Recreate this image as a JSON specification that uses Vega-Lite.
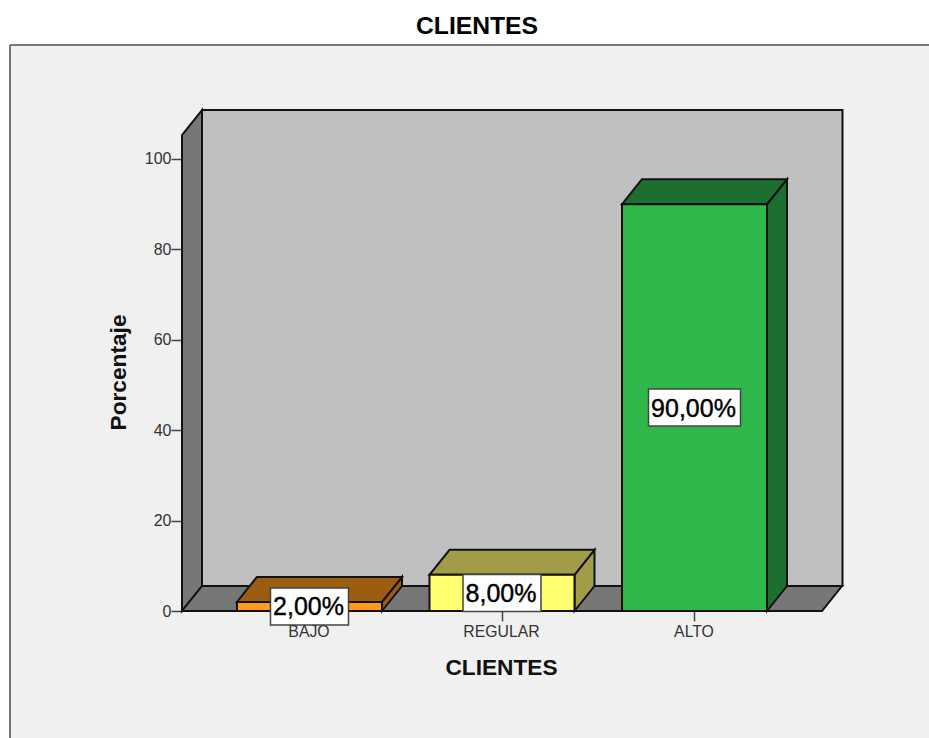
{
"$schema":"https://vega.github.io/schema/vega-lite/v6.json",
"width":919,"height":693,
"autosize":{"type":"none"},
"padding":{"left":10,"top":45,"right":0,"bottom":0},
"background":"#ffffff",
"config":{"view":{"fill":"#f0f0f0","stroke":null},"font":"Liberation Sans"},
"title":{"text":"CLIENTES","fontSize":24.7,"fontWeight":"bold","font":"Liberation Sans","color":"#000000","offset":5,"dx":7.5},
"datasets":{
"barras":[{"cliente":"BAJO","porcentaje":2},{"cliente":"REGULAR","porcentaje":8},{"cliente":"ALTO","porcentaje":90}],
"marco":[{"elemento":"pared"}]
},
"data":{"name":"barras"},
"transform":[
{"calculate":"indexof(['BAJO','REGULAR','ALTO'],datum.cliente)+1","as":"pos"},
{"calculate":"datum.pos-0.3766","as":"izq"},
{"calculate":"datum.pos+0.3766","as":"der"},
{"calculate":"0","as":"base"},
{"calculate":"replace(format(datum.porcentaje,'.2f'),'.',',')+'%'","as":"etiqueta"},
{"calculate":"datum.porcentaje/2","as":"medio"},
{"calculate":"datum.pos-(length(datum.etiqueta)>5?0.239:0.2026)","as":"cajaIzq"},
{"calculate":"datum.pos+(length(datum.etiqueta)>5?0.239:0.2026)","as":"cajaDer"},
{"calculate":"datum.medio-4.09","as":"cajaAbajo"},
{"calculate":"datum.medio+4.09","as":"cajaArriba"}
],
"layer":[
{"data":{"name":"marco"},
 "transform":[{"calculate":"0.4416","as":"xa"},{"calculate":"3.7688","as":"xb"},{"calculate":"5.531","as":"ya"},{"calculate":"110.84","as":"yb"}],
 "mark":{"type":"rect","fill":"#c0c0c0","stroke":"#111111","strokeWidth":2},
 "encoding":{
  "x":{"field":"xa","type":"quantitative","scale":{"domain":[-0.5558,4.2182],"nice":false,"zero":false},
    "axis":{"orient":"bottom","offset":-127,"values":[1,2,3],"grid":false,"domain":false,
      "labelExpr":"datum.value==1?'BAJO':datum.value==2?'REGULAR':'ALTO'",
      "tickSize":10,"tickWidth":1.5,"tickColor":"#444444","labelFontSize":15.8,"labelColor":"#333333","labelPadding":3,"labelOffset":-1,"labelFont":"Liberation Sans",
      "title":"CLIENTES","titleFontSize":22.7,"titleFontWeight":"bold","titleColor":"#111111","titleFont":"Liberation Sans","titleX":491,"titleY":56,"titleBaseline":"middle","titleAnchor":"middle"}},
  "x2":{"field":"xb"},
  "y":{"field":"ya","type":"quantitative","scale":{"domain":[-28.097,125.22],"nice":false,"zero":false},
    "axis":{"orient":"left","offset":-172,"values":[0,20,40,60,80,100],"grid":false,"domain":false,
      "tickSize":11,"tickWidth":1.5,"tickColor":"#444444","labelFontSize":16,"labelColor":"#333333","labelPadding":0,"labelFont":"Liberation Sans",
      "title":"Porcentaje","titleFontSize":22.7,"titleFontWeight":"bold","titleColor":"#111111","titleFont":"Liberation Sans","titleX":-64,"titleY":327,"titleAngle":-90,"titleBaseline":"middle","titleAnchor":"middle"}},
  "y2":{"field":"yb"}
 }},
{"data":{"name":"marco"},
 "transform":[{"calculate":"[0,1]","as":"t"},{"flatten":["t"]},
  {"calculate":"0.3377+datum.t*0.1039","as":"xp"},{"calculate":"datum.t*5.531","as":"yb"},{"calculate":"105.3+datum.t*5.531","as":"yt"}],
 "mark":{"type":"area","fill":"#777777","stroke":"#111111","strokeWidth":2,"orient":"vertical"},
 "encoding":{"x":{"field":"xp","type":"quantitative"},"y":{"field":"yb","type":"quantitative","stack":null},"y2":{"field":"yt"}}},
{"data":{"name":"marco"},
 "transform":[{"calculate":"[0,1]","as":"t"},{"flatten":["t"]},
  {"calculate":"datum.t*5.531","as":"yp"},{"calculate":"0.3377+datum.t*0.1039","as":"xa"},{"calculate":"3.6623+datum.t*0.1039","as":"xb"}],
 "mark":{"type":"area","fill":"#777777","stroke":"#111111","strokeWidth":2,"orient":"horizontal"},
 "encoding":{"y":{"field":"yp","type":"quantitative"},"x":{"field":"xa","type":"quantitative","stack":null},"x2":{"field":"xb"}}},
{"transform":[{"calculate":"[0,1]","as":"t"},{"flatten":["t"]},
  {"calculate":"datum.der+datum.t*0.1039","as":"xp"},{"calculate":"datum.t*5.531","as":"yb"},{"calculate":"datum.porcentaje+datum.t*5.531","as":"yt"}],
 "mark":{"type":"area","stroke":"#111111","strokeWidth":2,"orient":"vertical"},
 "encoding":{"x":{"field":"xp","type":"quantitative"},"y":{"field":"yb","type":"quantitative","stack":null},"y2":{"field":"yt"},"detail":{"field":"cliente","type":"nominal"},
  "fill":{"field":"cliente","type":"nominal","legend":null,"scale":{"domain":["BAJO","REGULAR","ALTO"],"range":["#9c5d10","#a09c48","#1c6f2f"]}}}},
{"transform":[{"calculate":"[0,1]","as":"t"},{"flatten":["t"]},
  {"calculate":"datum.porcentaje+datum.t*5.531","as":"yp"},{"calculate":"datum.izq+datum.t*0.1039","as":"xa"},{"calculate":"datum.der+datum.t*0.1039","as":"xb"}],
 "mark":{"type":"area","stroke":"#111111","strokeWidth":2,"orient":"horizontal"},
 "encoding":{"y":{"field":"yp","type":"quantitative"},"x":{"field":"xa","type":"quantitative","stack":null},"x2":{"field":"xb"},"detail":{"field":"cliente","type":"nominal"},
  "fill":{"field":"cliente","type":"nominal","legend":null,"scale":{"domain":["BAJO","REGULAR","ALTO"],"range":["#9c5d10","#a09c48","#1c6f2f"]}}}},
{"mark":{"type":"rect","stroke":"#111111","strokeWidth":2},
 "encoding":{"x":{"field":"izq","type":"quantitative"},"x2":{"field":"der"},"y":{"field":"base","type":"quantitative"},"y2":{"field":"porcentaje"},
  "fill":{"field":"cliente","type":"nominal","legend":null,"scale":{"domain":["BAJO","REGULAR","ALTO"],"range":["#ff9a1c","#ffff70","#2eb84a"]}}}},
{"mark":{"type":"rect","fill":"#ffffff","stroke":"#444444","strokeWidth":1.5},
 "encoding":{"x":{"field":"cajaIzq","type":"quantitative"},"x2":{"field":"cajaDer"},"y":{"field":"cajaAbajo","type":"quantitative"},"y2":{"field":"cajaArriba"}}},
{"mark":{"type":"text","fontSize":25,"font":"Liberation Sans","color":"#000000","stroke":"#000000","strokeWidth":0.4,"align":"center","baseline":"middle","dy":1,"dx":-1},
 "encoding":{"x":{"field":"pos","type":"quantitative"},"y":{"field":"medio","type":"quantitative"},"text":{"field":"etiqueta"}}},
{"data":{"name":"marco"},
 "transform":[{"calculate":"-0.5558","as":"xl"},{"calculate":"125.22","as":"yt"},{"calculate":"-28.097","as":"yb"}],
 "mark":{"type":"rule","stroke":"#777777","strokeWidth":2},
 "encoding":{"x":{"field":"xl","type":"quantitative"},"y":{"field":"yt","type":"quantitative"},"y2":{"field":"yb"}}},
{"data":{"name":"marco"},
 "transform":[{"calculate":"-0.5558","as":"xl"},{"calculate":"4.2182","as":"xr"},{"calculate":"125.22","as":"yt"}],
 "mark":{"type":"rule","stroke":"#777777","strokeWidth":2},
 "encoding":{"y":{"field":"yt","type":"quantitative"},"x":{"field":"xl","type":"quantitative"},"x2":{"field":"xr"}}}
],
"resolve":{"scale":{"fill":"independent"}}
}
